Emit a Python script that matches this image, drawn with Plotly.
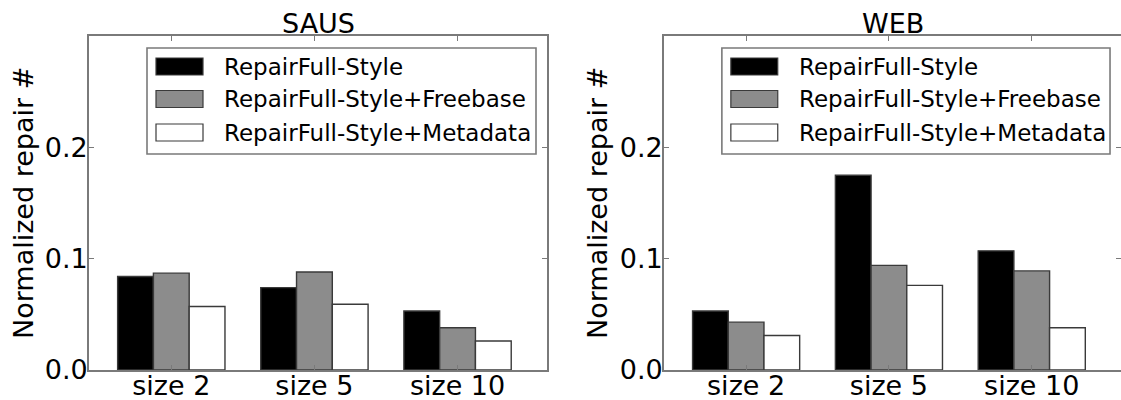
import plotly.graph_objects as go

# ---- data -------------------------------------------------------------
categories = ["size 2", "size 5", "size 10"]
series_names = [
    "RepairFull-Style",
    "RepairFull-Style+Freebase",
    "RepairFull-Style+Metadata",
]
panel_titles = ["SAUS", "WEB"]

saus_style = [0.084, 0.074, 0.053]
saus_freebase = [0.087, 0.088, 0.038]
saus_metadata = [0.057, 0.059, 0.026]

web_style = [0.053, 0.175, 0.107]
web_freebase = [0.043, 0.094, 0.089]
web_metadata = [0.031, 0.076, 0.038]

y_tickvals = [0.0, 0.1, 0.2]
y_ticktext = ["0.0", "0.1", "0.2"]
y_max = 0.3
y_title = "Normalized repair #"

# ---- styling ------------------------------------------------------------
FONT = "DejaVu Sans"
fills = ["#000000", "#8c8c8c", "#ffffff"]
edge = dict(color="#3a3a3a", width=1.4)
frame_color = "#7a7a7a"

W, H = 1121, 400
panels = [
    dict(x0=89, x1=547, xa="x", ya="y", data=[saus_style, saus_freebase, saus_metadata]),
    dict(x0=664, x1=1121, xa="x2", ya="y2", data=[web_style, web_freebase, web_metadata]),
]
top_px, bottom_px = 36, 370
y_domain = [1 - bottom_px / H, 1 - top_px / H]

fig = go.Figure()

for p in panels:
    for name, vals, col in zip(series_names, p["data"], fills):
        fig.add_trace(
            go.Bar(
                x=categories,
                y=vals,
                name=name,
                marker=dict(color=col, line=edge),
                xaxis=p["xa"],
                yaxis=p["ya"],
                showlegend=False,
            )
        )

axis_common = dict(
    showline=True,
    linecolor=frame_color,
    linewidth=1.6,
    mirror="allticks",
    ticks="inside",
    ticklen=5,
    tickwidth=1,
    tickcolor=frame_color,
    showgrid=False,
    zeroline=False,
    automargin=False,
    tickfont=dict(family=FONT, size=27, color="#000000"),
)

layout_axes = {}
for i, p in enumerate(panels):
    sfx = "" if i == 0 else str(i + 1)
    layout_axes["xaxis" + sfx] = dict(
        axis_common,
        domain=[p["x0"] / W, min(p["x1"] / W, 1.0)],
        anchor="y" + sfx,
        type="category",
        range=[-0.575, 2.625],
        ticklabelstandoff=-9,
    )
    layout_axes["yaxis" + sfx] = dict(
        axis_common,
        domain=y_domain,
        anchor="x" + sfx,
        range=[0, y_max],
        tickvals=y_tickvals,
        ticktext=y_ticktext,
        ticklabelstandoff=-6,
    )

fig.update_layout(
    template="none",
    width=W,
    height=H,
    margin=dict(l=0, r=0, t=0, b=0, autoexpand=False),
    paper_bgcolor="#ffffff",
    plot_bgcolor="#ffffff",
    barmode="group",
    bargap=0.25,
    bargroupgap=0.0,
    font=dict(family=FONT, color="#000000"),
    **layout_axes,
)

annotations = []
shapes = []

# panel titles and y-axis titles
ylabel_x = [23, 597]
for i, p in enumerate(panels):
    annotations.append(
        dict(
            text=panel_titles[i],
            xref="paper",
            yref="paper",
            x=(p["x0"] + p["x0"] + 458) / 2 / W,
            y=1 - 23 / H,
            xanchor="center",
            yanchor="middle",
            showarrow=False,
            font=dict(family=FONT, size=27, color="#000000"),
        )
    )
    annotations.append(
        dict(
            text=y_title,
            xref="paper",
            yref="paper",
            x=ylabel_x[i] / W,
            y=(y_domain[0] + y_domain[1]) / 2,
            xanchor="center",
            yanchor="middle",
            textangle=-90,
            showarrow=False,
            font=dict(family=FONT, size=27, color="#000000"),
        )
    )

# legend box drawn inside each panel (domain coordinates)
panel_w = 458.0
panel_h = bottom_px - top_px
box_l, box_r = 58 / panel_w, 1 - 11 / panel_w
box_t, box_b = 1 - 12 / panel_h, 1 - 118 / panel_h
sw_l, sw_r = 67 / panel_w, 114 / panel_w
txt_x = 133 / panel_w
row_y = [1 - 30.5 / panel_h, 1 - 63 / panel_h, 1 - 96.5 / panel_h]
sw_half = 8.5 / panel_h

for i, p in enumerate(panels):
    sfx = "" if i == 0 else str(i + 1)
    xr, yr = "x" + sfx + " domain", "y" + sfx + " domain"
    shapes.append(
        dict(
            type="rect", xref=xr, yref=yr,
            x0=box_l, x1=box_r, y0=box_b, y1=box_t,
            line=dict(color=frame_color, width=1.6),
            fillcolor="#ffffff", layer="above",
        )
    )
    for name, col, yc in zip(series_names, fills, row_y):
        shapes.append(
            dict(
                type="rect", xref=xr, yref=yr,
                x0=sw_l, x1=sw_r, y0=yc - sw_half, y1=yc + sw_half,
                line=dict(color="#3a3a3a", width=1.2),
                fillcolor=col, layer="above",
            )
        )
        annotations.append(
            dict(
                text=name, xref=xr, yref=yr,
                x=txt_x, y=yc,
                xanchor="left", yanchor="middle",
                showarrow=False,
                font=dict(family=FONT, size=23, color="#000000"),
            )
        )

fig.update_layout(annotations=annotations, shapes=shapes)

fig.write_html("out.html")
